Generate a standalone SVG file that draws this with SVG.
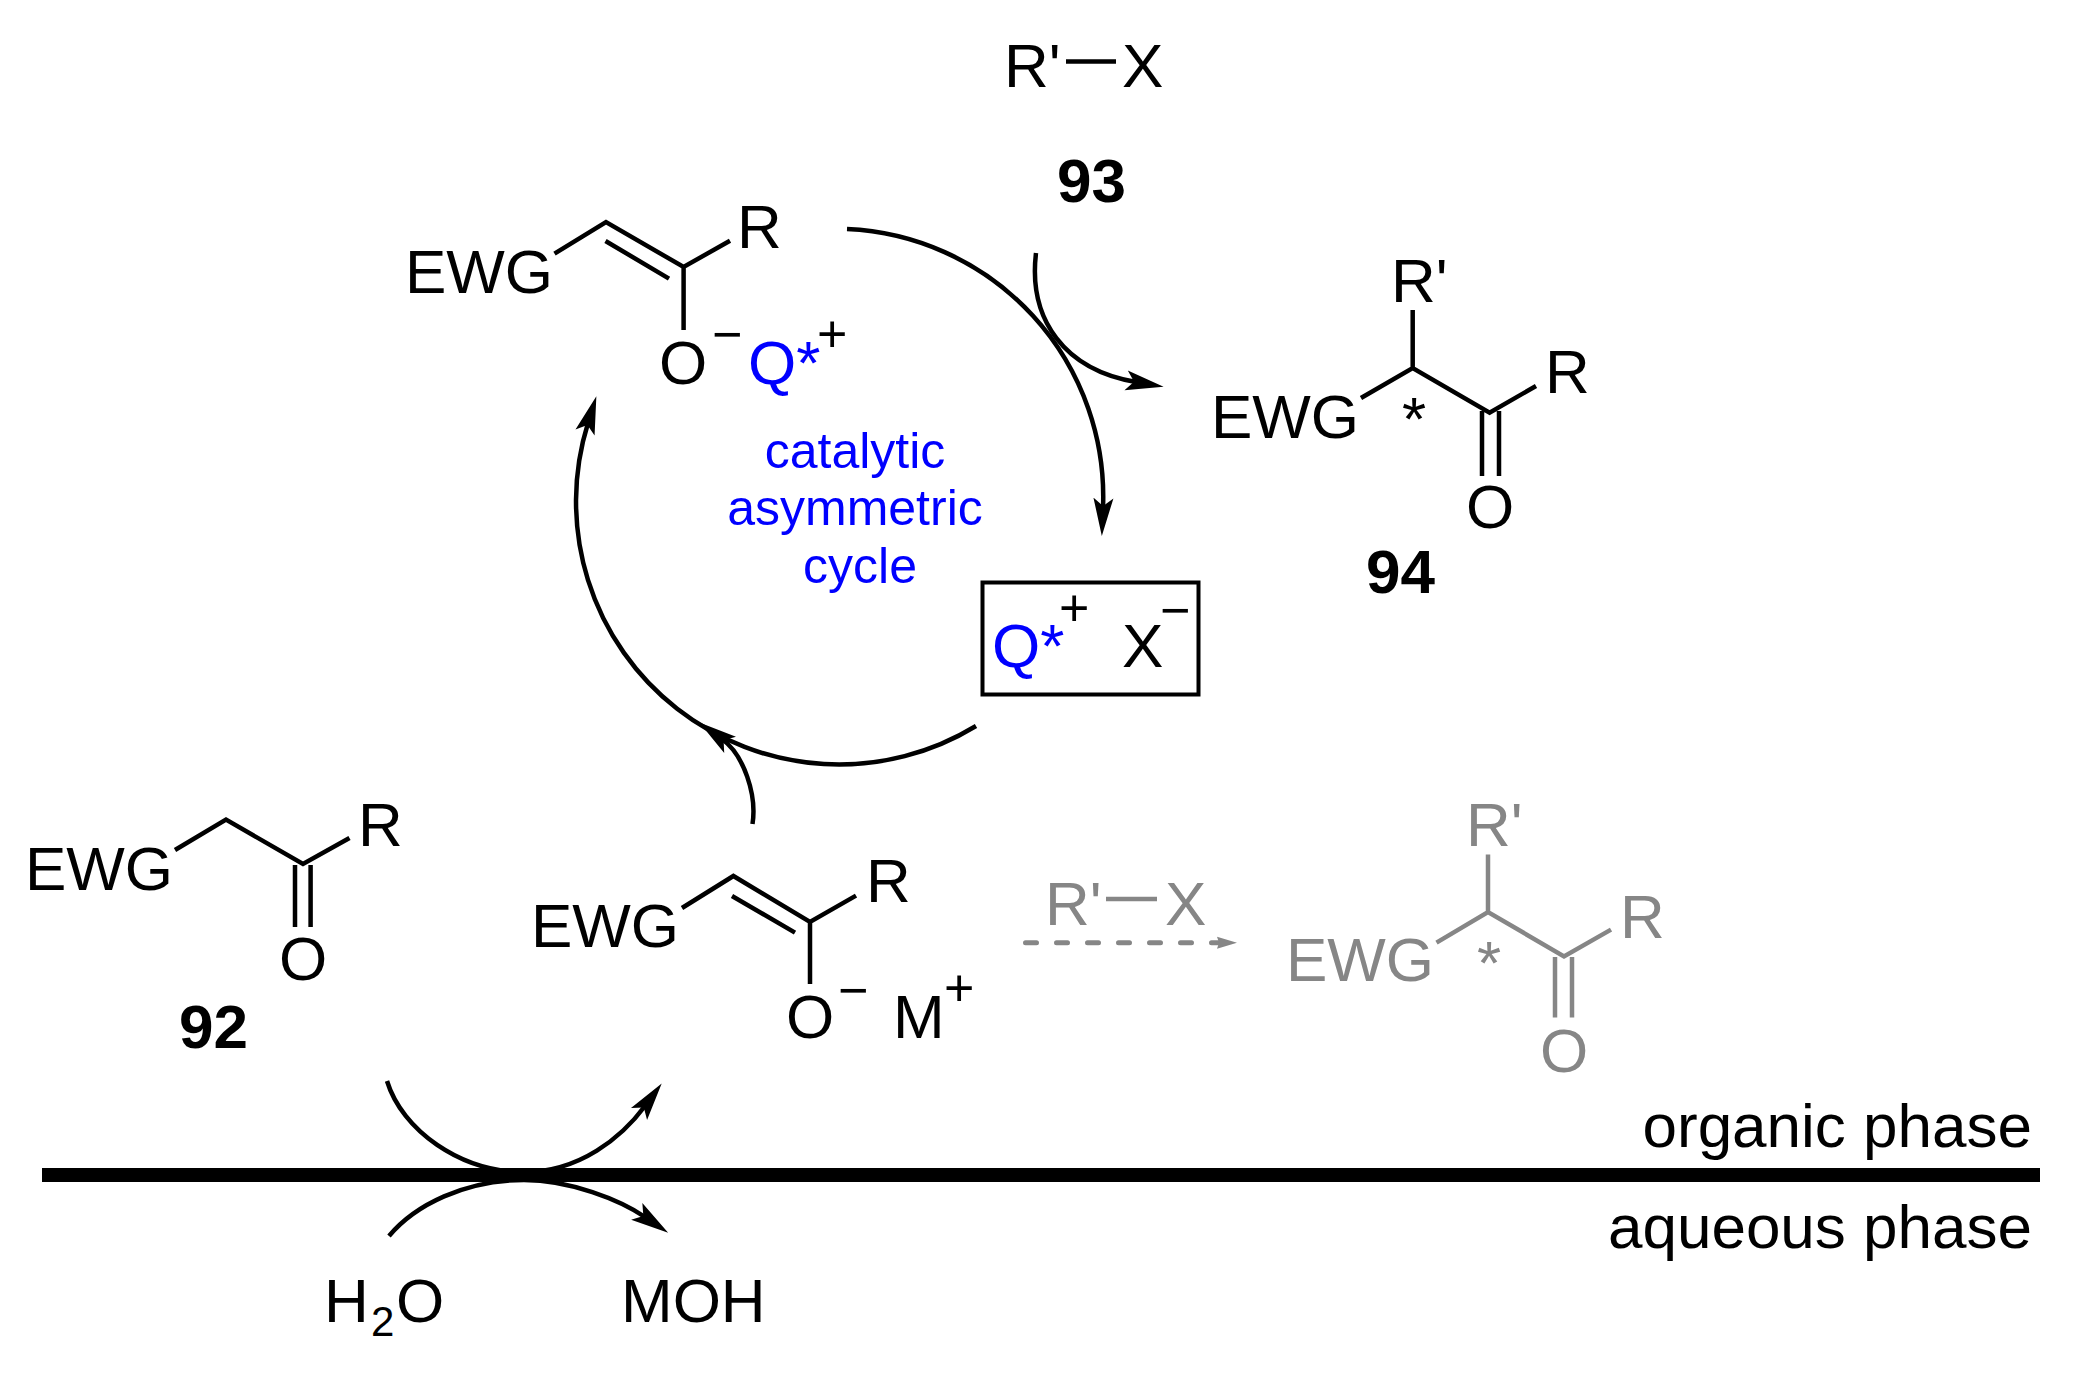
<svg xmlns="http://www.w3.org/2000/svg" width="2080" height="1381" viewBox="0 0 2080 1381">
<style>
text{font-family:"Liberation Sans",Arial,sans-serif;font-size:62px;fill:#000}
.b{font-weight:bold}
.m{text-anchor:middle}
.q{fill:#0000ff}
.s{font-size:52px}
.c{font-size:50px;fill:#0000ff;text-anchor:middle}
.p{font-size:62px;text-anchor:end}
.bond{fill:none;stroke:#000;stroke-width:4.5}
.arr{fill:none;stroke:#000;stroke-width:4.5;marker-end:url(#head)}
.g text{fill:#868686}
.g .bond{stroke:#868686}
</style>
<defs>
<marker id="head" markerUnits="userSpaceOnUse" markerWidth="40" markerHeight="22" viewBox="0 0 40 22" refX="10" refY="11" orient="auto"><path d="M0,1 L38,11 L0,21 L8,11 Z" fill="#000"/></marker>
<marker id="ghead" markerUnits="userSpaceOnUse" markerWidth="22" markerHeight="14" viewBox="0 0 22 14" refX="3" refY="7" orient="auto"><path d="M0,1 L20,7 L0,13 L2,7 Z" fill="#868686"/></marker>
</defs>
<rect width="2080" height="1381" fill="#fff"/>
<g id="connectors">
<path class="arr" d="M847,229 A268,268 0 0 1 1103,508"/>
<path class="arr" d="M1036,253 C1028,320 1065,370 1136,382"/>
<path class="arr" d="M976,726 A263,263 0 0 1 588,423"/>
<path class="arr" d="M752.5,824 C757,795 744,755 722,739"/>
<path class="arr" d="M387,1081 C402,1130 460,1172 524,1172 C580,1172 622,1137 645,1106"/>
<path class="arr" d="M389,1236 C415,1205 465,1180 524,1180 C570,1180 620,1200 645,1217"/>
<path d="M1025.5,942.7 H1220" fill="none" stroke="#868686" stroke-width="5" stroke-linecap="round" stroke-dasharray="11 20" marker-end="url(#ghead)"/>
</g>
<g id="phase-line"><rect x="42" y="1168" width="1998" height="14" fill="#000"/></g>
<g id="rx-93">
<text x="1004" y="87">R'</text><path class="bond" d="M1066,61.5 H1116"/><text x="1122" y="87">X</text>
<text class="b" x="1057" y="202">93</text>
</g>
<g id="enolate-q">
<text x="405" y="293">EWG</text>
<path class="bond" d="M554.5,253.6 L606,222 L683.6,267 L730,240.7 M605.5,241 L669,278.6 M683.6,267 V330"/>
<text x="737" y="248">R</text>
<text class="m" x="683" y="384">O</text>
<text class="s" x="712" y="352">−</text>
<text class="q" x="748" y="384">Q*</text>
<text class="s" x="817" y="352">+</text>
</g>
<g id="cycle-label">
<text class="c" x="855" y="468">catalytic</text>
<text class="c" x="855" y="525">asymmetric</text>
<text class="c" x="860" y="583">cycle</text>
</g>
<g id="product-94">
<text x="1391" y="302">R'</text>
<text x="1211" y="438">EWG</text>
<path class="bond" d="M1361,398 L1412.7,368 L1489.6,412.7 L1536,386 M1412.7,310 V368 M1482,411 V476 M1499,411 V476"/>
<text class="m" x="1414" y="440">*</text>
<text x="1545" y="393">R</text>
<text class="m" x="1490" y="528">O</text>
<text class="b" x="1366" y="593">94</text>
</g>
<g id="catalyst-box">
<rect x="982.5" y="582.5" width="216" height="112" fill="none" stroke="#000" stroke-width="4"/>
<text class="q" x="992" y="667">Q*</text>
<text class="s" x="1059" y="626">+</text>
<text x="1122" y="667">X</text>
<text class="s" x="1160" y="628">−</text>
</g>
<g id="ketone-92">
<text x="25" y="890">EWG</text>
<path class="bond" d="M175,850 L226,819.6 L303,864 L349.5,838 M295,865 V927 M310.6,865 V927"/>
<text x="358" y="846">R</text>
<text class="m" x="303" y="980">O</text>
<text class="b" x="179" y="1048">92</text>
</g>
<g id="enolate-m">
<text x="531" y="947">EWG</text>
<path class="bond" d="M682,908 L733.4,876 L810,922 L856,895.6 M732,896 L795,932.6 M810,922 V984"/>
<text x="866" y="902">R</text>
<text class="m" x="810" y="1038">O</text>
<text class="s" x="838" y="1008">−</text>
<text x="893" y="1038">M</text>
<text class="s" x="944" y="1006">+</text>
</g>
<g id="side-product" class="g">
<text x="1045" y="925">R'</text><path class="bond" d="M1106,899 H1157"/><text x="1165" y="925">X</text>
<text x="1466" y="846">R'</text>
<text x="1286" y="981">EWG</text>
<path class="bond" d="M1436.5,942.6 L1488,912 L1564,956.4 L1611,929.6 M1488,854.6 V912 M1555,957 V1017.6 M1572,957 V1017.6"/>
<text class="m" x="1489" y="984">*</text>
<text x="1620" y="938">R</text>
<text class="m" x="1564" y="1072">O</text>
</g>
<g id="phase-labels">
<text class="p" x="2032" y="1147">organic phase</text>
<text class="p" x="2032" y="1248">aqueous phase</text>
</g>
<g id="water"><text x="324" y="1322">H<tspan x="371" y="1336" font-size="42">2</tspan><tspan x="396" y="1322">O</tspan></text></g>
<g id="moh"><text x="621" y="1322">MOH</text></g>
</svg>
